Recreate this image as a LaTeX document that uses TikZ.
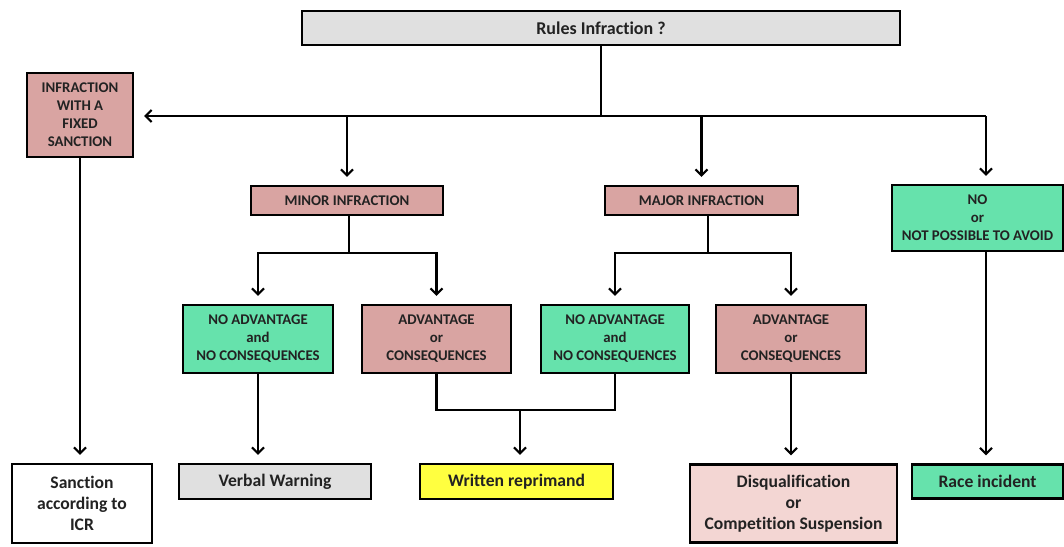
\documentclass[tikz,border=0pt]{standalone}
\usepackage{fontspec}
\setmainfont{Carlito}[BoldFont={Carlito Bold}, Ligatures=NoCommon]
\usetikzlibrary{arrows.meta}
\definecolor{pinkbox}{RGB}{217,164,162}
\definecolor{greenbox}{RGB}{102,226,172}
\definecolor{graybox}{RGB}{224,224,224}
\definecolor{yellowbox}{RGB}{255,255,64}
\definecolor{lightpink}{RGB}{243,214,211}
\definecolor{txt}{RGB}{34,34,34}
\tikzset{
  box/.style={draw=black, line width=2.2pt, align=center, inner sep=0pt, text=txt,
    font=\bfseries\fontsize{14.8}{18}\selectfont},
  bigbox/.style={box, font=\bfseries\fontsize{17.6}{21}\selectfont},
  conn/.style={line width=2.2pt},
  arr/.style={conn, -{Straight Barb[length=6pt,width=12pt]}, shorten >=8pt},
}
\begin{document}
\begin{tikzpicture}[x=1pt,y=-1pt]
\useasboundingbox (0,0) rectangle (1064,546);
\fill[white] (0,0) rectangle (1064,546);
% top
\node[box, fill=graybox, minimum width=598pt, minimum height=34pt, font=\bfseries\fontsize{18}{20}\selectfont] (rules) at (601,28) {Rules Infraction ?};
\node[box, fill=pinkbox, minimum width=106pt, minimum height=84pt] (fixed) at (80,115) {INFRACTION\\WITH A\\FIXED\\SANCTION};
\node[box, fill=pinkbox, minimum width=192pt, minimum height=29pt] (minor) at (347,200.5) {MINOR INFRACTION};
\node[box, fill=pinkbox, minimum width=193pt, minimum height=29pt] (major) at (701.5,200.5) {MAJOR INFRACTION};
\node[box, fill=greenbox, minimum width=171pt, minimum height=66pt] (no) at (977.5,218) {NO\\or\\NOT POSSIBLE TO AVOID};
% middle
\node[box, fill=greenbox, minimum width=150pt, minimum height=68pt] (nal) at (258,339) {NO ADVANTAGE\\and\\NO CONSEQUENCES};
\node[box, fill=pinkbox, minimum width=149pt, minimum height=68pt] (al) at (436.5,339) {ADVANTAGE\\or\\CONSEQUENCES};
\node[box, fill=greenbox, minimum width=148pt, minimum height=68pt] (nar) at (615,339) {NO ADVANTAGE\\and\\NO CONSEQUENCES};
\node[box, fill=pinkbox, minimum width=150pt, minimum height=68pt] (ar) at (791,339) {ADVANTAGE\\or\\CONSEQUENCES};
% bottom
\node[bigbox, fill=white, minimum width=140pt, minimum height=79pt] (icr) at (82,503.5) {Sanction\\according to\\ICR};
\node[bigbox, fill=graybox, minimum width=192pt, minimum height=35pt] (verbal) at (275,481.5) {Verbal Warning};
\node[bigbox, fill=yellowbox, minimum width=193pt, minimum height=35pt] (written) at (516.5,481.5) {Written reprimand};
\node[bigbox, fill=lightpink, minimum width=207pt, minimum height=78pt] (disq) at (793.5,503.5) {Disqualification\\or\\Competition Suspension};
\node[bigbox, fill=greenbox, minimum width=151pt, minimum height=34pt] (race) at (987.5,481.5) {Race incident};
% connectors
\coordinate (j) at (601,116);
\draw[conn] (rules.south) -- (j);
\draw[arr, shorten >=10pt] (j) -- (fixed.east |- j);
\coordinate (nt) at (986,116);
\draw[conn] (j) -- (nt);
\draw[arr] (nt) -- (nt |- no.north);
\draw[arr] (minor.north |- j) -- (minor.north);
\draw[arr] (major.north |- j) -- (major.north);
\coordinate (mf) at (349,253);
\draw[conn] (minor.south -| mf) -- (mf);
\draw[arr] (mf) -| (nal.north);
\draw[arr] (mf) -| (al.north);
\coordinate (jf) at (708,253);
\draw[conn] (major.south -| jf) -- (jf);
\draw[arr] (jf) -| (nar.north);
\draw[arr] (jf) -| (ar.north);
\draw[arr] (fixed.south) -- (fixed.south |- icr.north);
\draw[arr] (nal.south) -- (nal.south |- verbal.north);
\coordinate (wm) at (520,410);
\draw[conn] (al.south) |- (nar.south |- wm) -- (nar.south);
\draw[arr] (wm) -- (wm |- written.north);
\draw[arr] (ar.south) -- (ar.south |- disq.north);
\draw[arr] (nt |- no.south) -- (nt |- race.north);
\end{tikzpicture}
\end{document}
